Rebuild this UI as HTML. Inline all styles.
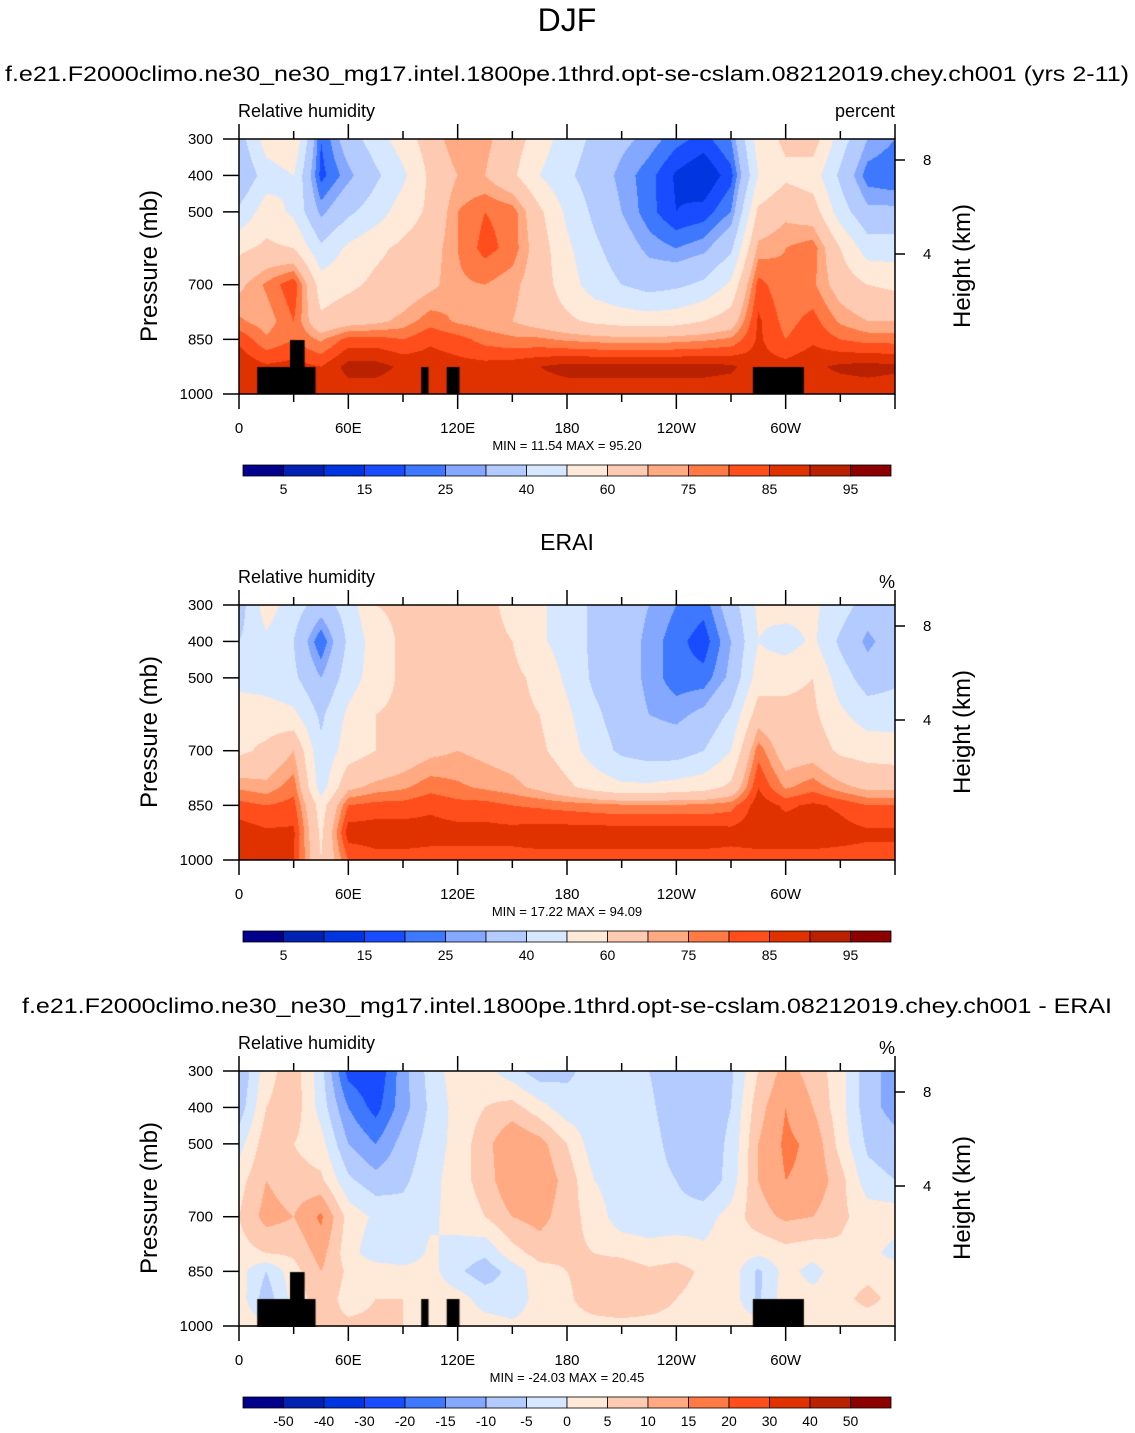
<!DOCTYPE html>
<html><head><meta charset="utf-8">
<style>
html,body{margin:0;padding:0;background:#fff;}
body{width:1135px;height:1433px;position:relative;overflow:hidden;font-family:"Liberation Sans",Arial,sans-serif;color:#000;}
svg{position:absolute;left:0;top:0;}
canvas{position:absolute;}
</style></head>
<body>
<canvas id="c1" width="656" height="255" style="left:239px;top:139px"></canvas>
<canvas id="c2" width="656" height="255" style="left:239px;top:605px"></canvas>
<canvas id="c3" width="656" height="256" style="left:239px;top:1071px"></canvas>
<svg id="ov" width="1135" height="1433"></svg>
<script>
const lons=[0,15,30,45,60,75,90,105,120,135,150,165,180,195,210,225,240,255,270,285,300,315,330,345,360];
const levels=[300,400,500,600,700,800,850,925,1000];
const xTickLabels=["0","60E","120E","180","120W","60W"];
const absBounds=[5,10,15,20,25,30,40,50,60,70,75,80,85,90,95];
const absLabels=["5","15","25","40","60","75","85","95"];
const diffBounds=[-50,-40,-30,-20,-15,-10,-5,0,5,10,15,20,30,40,50];
const diffLabels=["-50","-40","-30","-20","-15","-10","-5","0","5","10","15","20","30","40","50"];
const colors=["#00008c","#0022b4","#0035e0","#1a4cff","#3e78ff","#84a8ff","#b3cbff","#d6e8ff","#ffe9d8","#ffcab2","#ffaa82","#ff7a44","#ff4e1c","#e03200","#ba2100","#8c0000"];
const modelRH=[
[35,55,60,20,35,45,55,65,75,72,65,55,45,38,32,28,22,18,25,55,62,65,45,30,25],
[30,45,50,18,28,38,48,62,70,70,62,50,42,35,28,22,14,10,18,50,58,55,38,22,20],
[42,55,48,28,38,45,55,62,75,80,78,62,48,38,30,22,15,17,25,62,68,65,45,32,32],
[58,62,60,42,52,58,62,66,75,82,78,65,52,42,35,28,25,28,38,72,75,78,60,45,45],
[68,76,84,55,58,62,64,68,74,75,72,65,55,45,40,36,38,42,52,82,76,76,66,60,58],
[76,72,80,62,66,68,72,78,74,72,70,66,62,58,56,55,56,60,65,86,78,82,74,70,70],
[84,76,80,74,82,82,80,84,82,78,76,76,74,73,72,72,73,74,76,86,80,84,80,78,78],
[89,86,87,85,92,92,89,88,87,87,88,90,92,92,92,92,92,92,91,87,87,89,91,92,91],
[87,87,87,87,87,87,87,87,87,87,87,87,87,87,87,87,87,87,87,87,87,87,87,87,87]];
const eraiRH=[
[35,55,45,35,45,60,62,65,64,62,58,52,45,38,35,30,25,22,35,52,55,52,45,35,40],
[40,48,40,20,42,55,62,62,62,62,60,52,45,38,35,28,22,17,30,50,45,52,38,28,35],
[45,45,42,30,45,55,62,62,62,62,62,58,48,38,35,28,22,22,32,55,58,60,45,35,38],
[58,55,52,38,52,60,62,64,66,64,62,60,52,42,35,30,28,32,42,65,62,62,52,45,45],
[58,62,70,42,55,60,64,68,70,68,66,62,55,45,38,35,35,40,50,78,65,66,58,56,55],
[74,72,78,45,68,72,74,78,76,74,72,68,62,56,52,52,54,56,62,85,74,78,72,68,68],
[82,80,82,55,80,82,82,84,82,82,80,79,78,77,76,76,76,76,78,88,84,86,84,80,80],
[88,86,86,58,88,88,88,87,87,87,87,88,88,88,88,88,88,88,87,88,88,88,87,86,86],
[88,88,85,60,80,83,83,83,83,83,83,83,83,83,83,83,83,83,83,83,83,83,83,83,83]];
const diffRH=[
[-10,3,8,-3,-22,-25,-12,-3,3,2,-3,-8,-6,-3,-3,-5,-8,-8,-6,5,12,8,2,-8,-12],
[-8,5,8,-2,-15,-22,-12,-4,2,5,7,2,-3,-3,-3,-4,-8,-8,-5,8,15,10,2,-8,-12],
[-2,8,5,2,-10,-15,-8,-3,2,8,15,12,5,-3,-3,-3,-7,-8,-4,10,16,14,3,-6,-8],
[3,10,7,6,-4,-8,-6,-2,3,7,15,14,8,0,-3,-3,-5,-9,-3,10,15,14,7,-3,-5],
[5,12,10,16,3,-1,-3,-1,2,5,10,12,7,3,-3,-3,-3,-2,2,8,11,10,6,3,3],
[3,5,6,12,2,-3,-4,1,-2,-4,3,7,6,5,4,2,3,1,3,1,3,2,4,2,-2],
[2,-5,3,10,4,3,2,2,-4,-8,-3,3,5,7,8,6,7,4,3,-6,2,-2,3,4,3],
[3,-8,2,8,3,5,5,3,2,-2,-3,2,4,8,10,8,5,3,3,-6,3,2,4,6,4],
[3,2,3,6,6,6,5,3,2,2,1,2,3,3,3,3,3,3,3,3,3,3,3,3,3]];
// land mask boxes: [lonStart, lonEnd, pressureTop]
const landMask=[[10,42,926],[28,36,852],[100,104,926],[114,121,926],[282,310,926]];
const panels=[
 {top:139,canvas:"c1",data:modelRH,bounds:absBounds,labels:absLabels,title:"f.e21.F2000climo.ne30_ne30_mg17.intel.1800pe.1thrd.opt-se-cslam.08212019.chey.ch001 (yrs 2-11)",titleY:81,titleW:1124,unit:"percent",unitY:117,minmax:"MIN =  11.54  MAX =  95.20",mask:true,name:"model"},
 {top:605,canvas:"c2",data:eraiRH,bounds:absBounds,labels:absLabels,title:"ERAI",titleY:550,titleW:0,unit:"%",unitY:588,minmax:"MIN =  17.22  MAX =  94.09",mask:false,name:"erai"},
 {top:1071,canvas:"c3",data:diffRH,bounds:diffBounds,labels:diffLabels,title:"f.e21.F2000climo.ne30_ne30_mg17.intel.1800pe.1thrd.opt-se-cslam.08212019.chey.ch001 - ERAI",titleY:1013,titleW:1090,unit:"%",unitY:1054,minmax:"MIN = -24.03  MAX =  20.45",mask:true,name:"diff"}];
const X0=239,W=656,H=255;
function xScale(lon){return X0+lon/360*W;}
function yScale(p,top){return top+(p-300)/700*H;}
function interp(data,lon,p){
 let i=Math.min(lons.length-2,Math.floor(lon/15)); let fx=(lon-lons[i])/15;
 let j=0; while(j<levels.length-2&&p>levels[j+1]) j++;
 let fy=(p-levels[j])/(levels[j+1]-levels[j]);
 const a=data[j][i],b=data[j][i+1],c=data[j+1][i],d=data[j+1][i+1];
 return (a*(1-fx)+b*fx)*(1-fy)+(c*(1-fx)+d*fx)*fy;
}
function colorFor(v,bounds){let k=0;while(k<bounds.length&&v>=bounds[k])k++;return colors[k];}
const NS="http://www.w3.org/2000/svg";
const ov=document.getElementById('ov');
function el(tag,attrs,txt){const e=document.createElementNS(NS,tag);for(const k in attrs)e.setAttribute(k,attrs[k]);if(txt!==undefined)e.textContent=txt;ov.appendChild(e);return e;}
function text(x,y,s,size,anchor,name){const t=el('text',{x:x,y:y,'font-size':size,'text-anchor':anchor||'middle','font-family':'Liberation Sans, Arial, sans-serif'},s);
 
 
 return t;}
text(567,31,"DJF",32,'middle','main-title');
panels.forEach(P=>{
 const cv=document.getElementById(P.canvas);const ctx=cv.getContext('2d');
 const ch=cv.height;
 for(let py=0;py<ch;py+=1){const p=300+(py+0.5)/H*700;
  for(let px=0;px<W;px+=1){const lon=(px+0.5)/W*360;
   ctx.fillStyle=colorFor(interp(P.data,lon,p),P.bounds);ctx.fillRect(px,py,1,1);}}
 if(P.mask){ctx.fillStyle="#000";landMask.forEach(m=>{const x1=xScale(m[0])-X0,x2=xScale(m[1])-X0,y1=yScale(m[2],P.top)-P.top;ctx.fillRect(x1,y1,x2-x1,ch-y1);});}
 const T=P.top;
 const frame=el('rect',{x:X0,y:T,width:W,height:H,fill:'none',stroke:'#000','stroke-width':1.5});
 
 
 for(let lon=0;lon<=360;lon+=30){const major=lon%60===0,len=major?15:8,x=xScale(lon);
  const t1=el('line',{x1:x,y1:T,x2:x,y2:T-len,stroke:'#000','stroke-width':1.5});
  
  
  const t2=el('line',{x1:x,y1:T+H,x2:x,y2:T+H+len,stroke:'#000','stroke-width':1.5});
  
  
  if(major&&lon<360) text(x,T+H+39,xTickLabels[lon/60],15,'middle','x-tick-label');}
 [300,400,500,700,850,1000].forEach(p=>{const y=yScale(p,T);
  const tk=el('line',{x1:X0,y1:y,x2:X0-16,y2:y,stroke:'#000','stroke-width':1.5});
  
  
  text(213,y+5,String(p),15,'end','y-tick-label');});
 [[8,T+21],[4,T+115]].forEach(h=>{
  const tk=el('line',{x1:X0+W,y1:h[1],x2:X0+W+10,y2:h[1],stroke:'#000','stroke-width':1.5});
  
  
  text(923,h[1]+5,String(h[0]),15,'start','height-tick-label');});
 const yl=text(0,0,"Pressure (mb)",24,'middle','y-axis-title');yl.setAttribute('transform',`translate(157,${T+127}) rotate(-90)`);
 const hl=text(0,0,"Height (km)",24,'middle','right-axis-title');hl.setAttribute('transform',`translate(970,${T+127}) rotate(-90)`);
 const tt=text(567,P.titleY,P.title,P.titleW?21:23,'middle','panel-title');
 if(P.titleW){tt.setAttribute('textLength',P.titleW);tt.setAttribute('lengthAdjust','spacingAndGlyphs');}
 text(238,T-22,"Relative humidity",18,'start','variable-label');
 text(895,P.unitY,P.unit,18,'end','unit-label');
 text(567,T+311,P.minmax,13,'middle','min-max-label');
 const cy=T+326,cx=243,bw=648/16;
 for(let k=0;k<16;k++){const r=el('rect',{x:cx+k*bw,y:cy,width:bw,height:11,fill:colors[k],stroke:'#000','stroke-width':0.8});
  
  }
 if(P.labels.length===15){P.labels.forEach((s,k)=>text(cx+(k+1)*bw,cy+29,s,14,'middle','colorbar-label'));}
 else{P.labels.forEach((s,k)=>text(cx+(2*k+1)*bw,cy+29,s,14,'middle','colorbar-label'));}
});
</script>
</body></html>
